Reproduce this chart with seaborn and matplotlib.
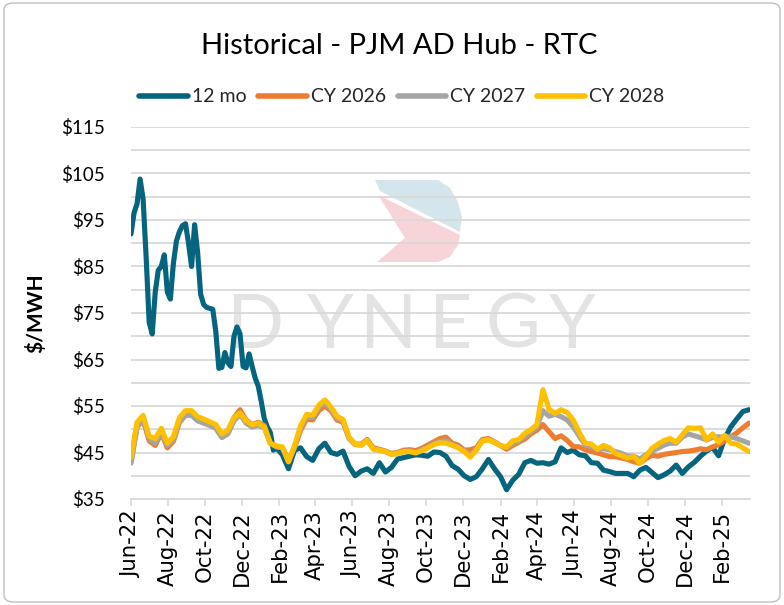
import numpy as np
import pandas as pd
import matplotlib
matplotlib.use("Agg")
import matplotlib.pyplot as plt
import matplotlib.dates as mdates
import seaborn as sns
from matplotlib.patches import Polygon, FancyBboxPatch
from matplotlib.ticker import MultipleLocator, FuncFormatter

# ---------------- data ----------------
# 12-month strip: 5-day sampling until late Jan-23, then 10-day sampling
teal_early_start = "2022-06-01"
teal_early = [92, 96.5, 98.5, 103.8, 99.5, 87, 73, 70.5, 79.5, 84.2,
              85, 87.5, 79.5, 78, 85.7, 90.5, 92.5, 93.8, 94.2, 90,
              85, 94, 88, 79, 76.8, 76.2, 76, 75.8, 71, 63.1,
              63.3, 66.5, 64.3, 63.5, 70, 72, 70.5, 63.5, 63.2, 66.2,
              63.5, 61, 59.3, 56, 52.3, 50.5, 49.3, 45.5, 46]
teal_late_start = "2023-02-06"
teal_late = [44.5, 41.5, 45.5, 46, 44.1, 43.3, 45.8, 47, 45, 44.6,
             45.3, 42, 40, 41, 41.5, 40.5, 42.8, 40.8, 41.8, 43.6,
             43.9, 44.2, 44.5, 44.4, 44.2, 45.1, 45, 44.2, 42.2, 41.4,
             40, 39.2, 39.8, 41.5, 43.5, 41.5, 39.8, 37, 39, 40.3,
             42.8, 43.3, 42.7, 42.8, 42.5, 43, 46, 45, 45.5, 44.5,
             44.3, 42.8, 42.7, 41.2, 40.9, 40.5, 40.5, 40.5, 39.8, 41.2,
             41.8, 40.7, 39.6, 40.2, 41, 42.3, 40.5, 41.9, 42.9, 44.2,
             45.3, 46.1, 44.3, 48, 50.5, 52.2, 53.8, 54.2]

# calendar strips: 10-day sampling from 2022-06-01
cy_start = "2022-06-01"
cy2026 = [43, 50.5, 52, 47.5, 46.5, 49.2, 46, 47.4, 51.5, 53,
          53.3, 52.3, 51.6, 51, 50.5, 48.5, 49.5, 52.5, 54.2, 52,
          51, 51.5, 50.8, 47, 46.3, 46, 43.3, 46, 49.8, 52.2,
          52, 54, 55, 54, 52, 51.5, 48, 46.8, 46.8, 47.8,
          46, 45.7, 45.3, 44.8, 45, 45.5, 45.6, 45.4, 45.9, 46.6,
          47.3, 48, 48.3, 47, 46.6, 45.5, 45.6, 46, 47.8, 48,
          47.3, 46.5, 45.7, 46.5, 47.2, 47.9, 49, 49.8, 51, 49.5,
          48, 48.6, 47.6, 46.3, 46.2, 45.6, 45.2, 44.9, 44.5, 44.1,
          44.1, 43.8, 43.5, 43, 42.7, 43.7, 44.4, 44.2, 44.6, 44.8,
          45, 45.2, 45.3, 45.5, 45.8, 45.6, 46.2, 46.7, 47.5, 48.4,
          49.2, 50.3, 51.3]
cy2027 = [42.7, 50.5, 52.2, 48, 47, 49.5, 46.5, 47.8, 51.8, 53,
          53, 51.8, 51.3, 50.8, 50.2, 48.2, 49, 51.8, 53.2, 51.3,
          50.5, 50.8, 50.3, 47, 46.2, 46, 43, 46.2, 50.3, 52.8,
          52.5, 54.7, 55.7, 54.4, 52.4, 51.8, 48.1, 46.7, 46.6, 47.6,
          45.8, 45.5, 45.2, 44.6, 44.8, 45.2, 45.3, 45, 45.5, 46.2,
          46.9, 47.4, 47.5, 46.7, 46.2, 45.3, 44.6, 45.6, 47.6, 47.8,
          47.2, 46.5, 46, 47, 47.5, 48.5, 49.5, 50.5, 54, 52.8,
          53.2, 52.7, 52, 50.5, 48.5, 46.6, 46.3, 45.6, 45.8, 45.6,
          45.2, 44.8, 44.2, 44.2, 43.6, 44.5, 45.3, 45.9, 46.6, 47,
          47, 48.3, 49, 48.6, 48.2, 47.7, 48.2, 48.4, 48.3, 48.4,
          48, 47.5, 47]
cy2028 = [44, 51.5, 53, 48.5, 48, 50.2, 47, 48.4, 52.5, 54,
          54, 52.7, 52.2, 51.6, 51, 49, 49.8, 52.5, 53.5, 51.8,
          51, 51.3, 50.5, 47, 46.4, 46.2, 43.0, 46.5, 50.8, 53.2,
          53, 55.2, 56.3, 54.8, 52.8, 52.1, 48.3, 46.8, 46.6, 47.6,
          45.7, 45.5, 45.2, 44.6, 44.8, 45.2, 45.2, 44.9, 45.4, 46,
          46.7, 47.1, 47, 46.6, 46, 45.2, 44, 45.5, 47.5, 47.7,
          47.2, 46.5, 46.2, 47.5, 47.8, 49.1, 49.9, 51, 58.5, 54.3,
          53.4, 54.2, 53.6, 52, 49.3, 47, 46.8, 45.7, 46.5, 46,
          44.8, 44.3, 43.8, 44.1, 42.7, 44.2, 45.9, 46.8, 47.6, 48,
          47.2, 48.8, 50.3, 50.2, 50.3, 47.7, 49, 47.2, 48.7, 47,
          46.8, 46, 45.2]

series_names = ["12 mo", "CY 2026", "CY 2027", "CY 2028"]
series_colors = ["#05647E", "#ED7D31", "#A5A5A5", "#FFC000"]
title = "Historical - PJM AD Hub - RTC"
y_label = "$/MWH"
y_ticks = [35, 45, 55, 65, 75, 85, 95, 105, 115]
x_tick_start, x_tick_end = "2022-06-01", "2025-02-01"
x_end = "2025-03-18"

# ---------------- build frames ----------------
teal_dates = pd.date_range(teal_early_start, periods=len(teal_early), freq="5D").append(
    pd.date_range(teal_late_start, periods=len(teal_late), freq="10D"))
df_teal = pd.DataFrame({"date": teal_dates, "price": teal_early + teal_late, "series": series_names[0]})
cy_dates = pd.date_range(cy_start, periods=len(cy2028), freq="10D")
frames = [df_teal]
for name, vals in zip(series_names[1:], [cy2026, cy2027, cy2028]):
    frames.append(pd.DataFrame({"date": cy_dates, "price": vals, "series": name}))
df = pd.concat(frames, ignore_index=True)

# ---------------- figure ----------------
sns.set_theme(style="white")
plt.rcParams["font.family"] = ["Lato", "DejaVu Sans"]

W, H = 784, 605
fig = plt.figure(figsize=(W / 100, H / 100), dpi=100)
fig.patch.set_facecolor("white")

def fx(px):
    return px / W

def fy(py):
    return 1 - py / H

ax = fig.add_axes([fx(131), fy(499), fx(749.5) - fx(131), fy(127) - fy(499)])
ax.patch.set_alpha(0)

sns.lineplot(data=df, x="date", y="price", hue="series", hue_order=series_names,
             palette=series_colors, linewidth=3.7, ax=ax, legend=False,
             estimator=None, sort=True)
for ln in ax.get_lines():
    ln.set_solid_joinstyle("round")

# watermark (logo + text), below gridlines
teal_poly = [(375, 180), (438, 180), (450, 188), (458, 202), (462, 217), (460, 232), (380, 191)]
pink_poly = [(378, 195), (460, 235), (458, 245), (450, 257), (438, 262), (377, 262), (405, 238)]
ax.add_patch(Polygon([(fx(a), fy(b)) for a, b in teal_poly], closed=True, transform=fig.transFigure,
                     facecolor="#d4e6eb", edgecolor="none", zorder=0.1))
ax.add_patch(Polygon([(fx(a), fy(b)) for a, b in pink_poly], closed=True, transform=fig.transFigure,
                     facecolor="#f7d4d8", edgecolor="none", zorder=0.1))
for ch, cx in zip("DYNEGY", [255, 330, 388, 450, 513, 572]):
    ax.text(fx(cx), fy(326), ch, transform=fig.transFigure, ha="center", va="center",
            fontsize=54, color="#e3e3e3", family="Lato", zorder=0.1)

# axes styling
ax.set_xlim(pd.Timestamp(x_tick_start), pd.Timestamp(x_end))
ax.set_ylim(35, 115)
ax.set_axisbelow(True)
ax.yaxis.set_major_locator(MultipleLocator(10))
ax.yaxis.set_minor_locator(MultipleLocator(5))
ax.set_yticks(y_ticks)
ax.yaxis.set_major_formatter(FuncFormatter(lambda v, p: f"${v:.0f}"))
ax.grid(True, which="both", axis="y", color="#d9d9d9", linewidth=1.3)
ax.grid(False, axis="x")
ax.tick_params(axis="y", which="both", length=0, pad=19, labelsize=13.5, labelcolor="black")

xt = pd.date_range(x_tick_start, x_tick_end, freq="2MS")
ax.set_xticks(xt)
ax.xaxis.set_major_formatter(mdates.DateFormatter("%b-%y"))
ax.tick_params(axis="x", which="major", bottom=True, length=5, width=1.2, color="#d9d9d9",
               pad=3, labelsize=15.3, labelrotation=90, labelcolor="black")
for lab in ax.get_xticklabels():
    lab.set_family("DejaVu Sans")
for lab in ax.get_yticklabels():
    lab.set_family("Lato")

for s in ["top", "right", "left"]:
    ax.spines[s].set_visible(False)
ax.spines["bottom"].set_color("#d9d9d9")
ax.spines["bottom"].set_linewidth(1.3)
ax.set_xlabel("")
ax.set_ylabel("")

# title, y label
fig.text(fx(399), fy(46), title, ha="center", va="center", fontsize=21, family="Lato", color="black")
fig.text(fx(36), fy(313), y_label, ha="center", va="center", rotation=90, fontsize=15,
         fontweight="bold", family="Lato", color="black")

# legend
handles = [plt.Line2D([0], [0], color=c, linewidth=4.0, solid_capstyle="round") for c in series_colors]
leg = fig.legend(handles, series_names, loc="center", bbox_to_anchor=(fx(402), fy(97)), ncol=4,
                 frameon=False, fontsize=14, handlelength=2.5, handletextpad=0.2,
                 columnspacing=0.6, borderaxespad=0)
for t in leg.get_texts():
    t.set_family("Lato")

# chart border
fig.patches.append(FancyBboxPatch((fx(4), fy(602)), fx(780) - fx(4), fy(3) - fy(602),
                                  boxstyle="round,pad=0,rounding_size=0.012", transform=fig.transFigure,
                                  facecolor="none", edgecolor="#bfbfbf", linewidth=1.0))

fig.savefig("out.png", dpi=100, facecolor="white")
